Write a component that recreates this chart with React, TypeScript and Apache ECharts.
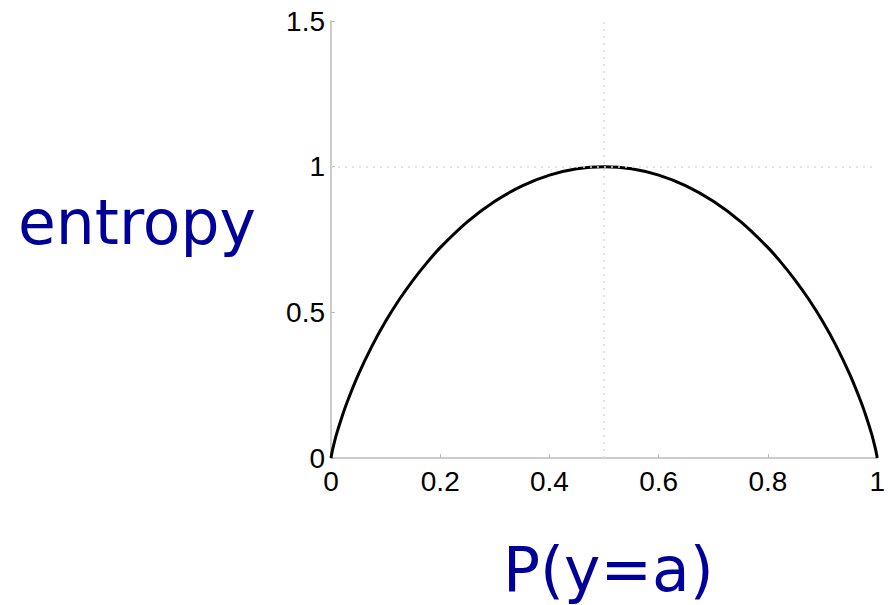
import React, { useEffect, useRef } from "react";
import * as echarts from "echarts";

// Estimated points of the curve
const probs = [0, 0.002, 0.005, 0.01, 0.02, 0.03, 0.05, 0.075, 0.1, 0.125, 0.15, 0.175, 0.2, 0.25, 0.3, 0.35, 0.4, 0.45, 0.5,
  0.55, 0.6, 0.65, 0.7, 0.75, 0.8, 0.825, 0.85, 0.875, 0.9, 0.925, 0.95, 0.97, 0.98, 0.99, 0.995, 0.998, 1];
const entropyValues = [0, 0.021, 0.045, 0.081, 0.141, 0.194, 0.286, 0.384, 0.469, 0.544, 0.61, 0.669, 0.722, 0.811, 0.881, 0.934, 0.971, 0.993, 1,
  0.993, 0.971, 0.934, 0.881, 0.811, 0.722, 0.669, 0.61, 0.544, 0.469, 0.384, 0.286, 0.194, 0.141, 0.081, 0.045, 0.021, 0];
const xTicks = [0, 0.2, 0.4, 0.6, 0.8, 1];
const yTicks = [0, 0.5, 1, 1.5];
const yAxisTitle = "entropy";
const xAxisTitle = "P(y=a)";

export default function App() {
  const ref = useRef<HTMLDivElement>(null);
  useEffect(() => {
    if (!ref.current) return;
    const chart = echarts.init(ref.current, null, { renderer: "svg" });
    const tickFont = { fontFamily: "Liberation Sans", fontSize: 28, color: "#000" };
    chart.setOption({
      animation: false,
      backgroundColor: "#fff",
      grid: { left: 331, right: 8, top: 21, bottom: 147 },
      xAxis: {
        type: "value",
        min: 0,
        max: 1,
        interval: 0.2,
        axisLine: { lineStyle: { color: "#bbb", width: 1.5 } },
        axisTick: { inside: true, length: 4, lineStyle: { color: "#bbb" } },
        splitLine: { show: false },
        axisLabel: {
          ...tickFont,
          margin: 9,
          formatter: (v: number) => (xTicks.some((t) => Math.abs(t - v) < 1e-9) ? String(Number(v.toFixed(1))) : ""),
        },
      },
      yAxis: {
        type: "value",
        min: 0,
        max: 1.5,
        interval: 0.5,
        axisLine: { show: true, lineStyle: { color: "#bbb", width: 1.5 } },
        axisTick: { show: true, inside: true, length: 4, lineStyle: { color: "#bbb" } },
        splitLine: { show: false },
        axisLabel: {
          ...tickFont,
          margin: 6,
          formatter: (v: number) => (yTicks.some((t) => Math.abs(t - v) < 1e-9) ? String(v) : ""),
        },
      },
      series: [
        {
          type: "line",
          data: probs.map((p, i) => [p, entropyValues[i]]),
          showSymbol: false,
          smooth: 0.3,
          z: 3,
          lineStyle: { color: "#000", width: 3 },
          markLine: {
            silent: true,
            symbol: "none",
            label: { show: false },
            lineStyle: { color: "#dcdcdc", type: [2, 5], width: 1.5 },
            data: [{ yAxis: 1 }, { xAxis: 0.5 }],
          },
        },
      ],
      graphic: [
        {
          type: "text",
          left: 18,
          top: 192,
          style: { text: yAxisTitle, fontFamily: "DejaVu Sans", fontSize: 61.5, fill: "#000099" },
        },
        {
          type: "text",
          left: 503,
          top: 539,
          style: { text: xAxisTitle, fontFamily: "DejaVu Sans", fontSize: 61.5, fill: "#000099" },
        },
      ],
    });
    return () => chart.dispose();
  }, []);
  return <div ref={ref} style={{ position: "absolute", left: 0, top: 0, width: 888, height: 605 }} />;
}
